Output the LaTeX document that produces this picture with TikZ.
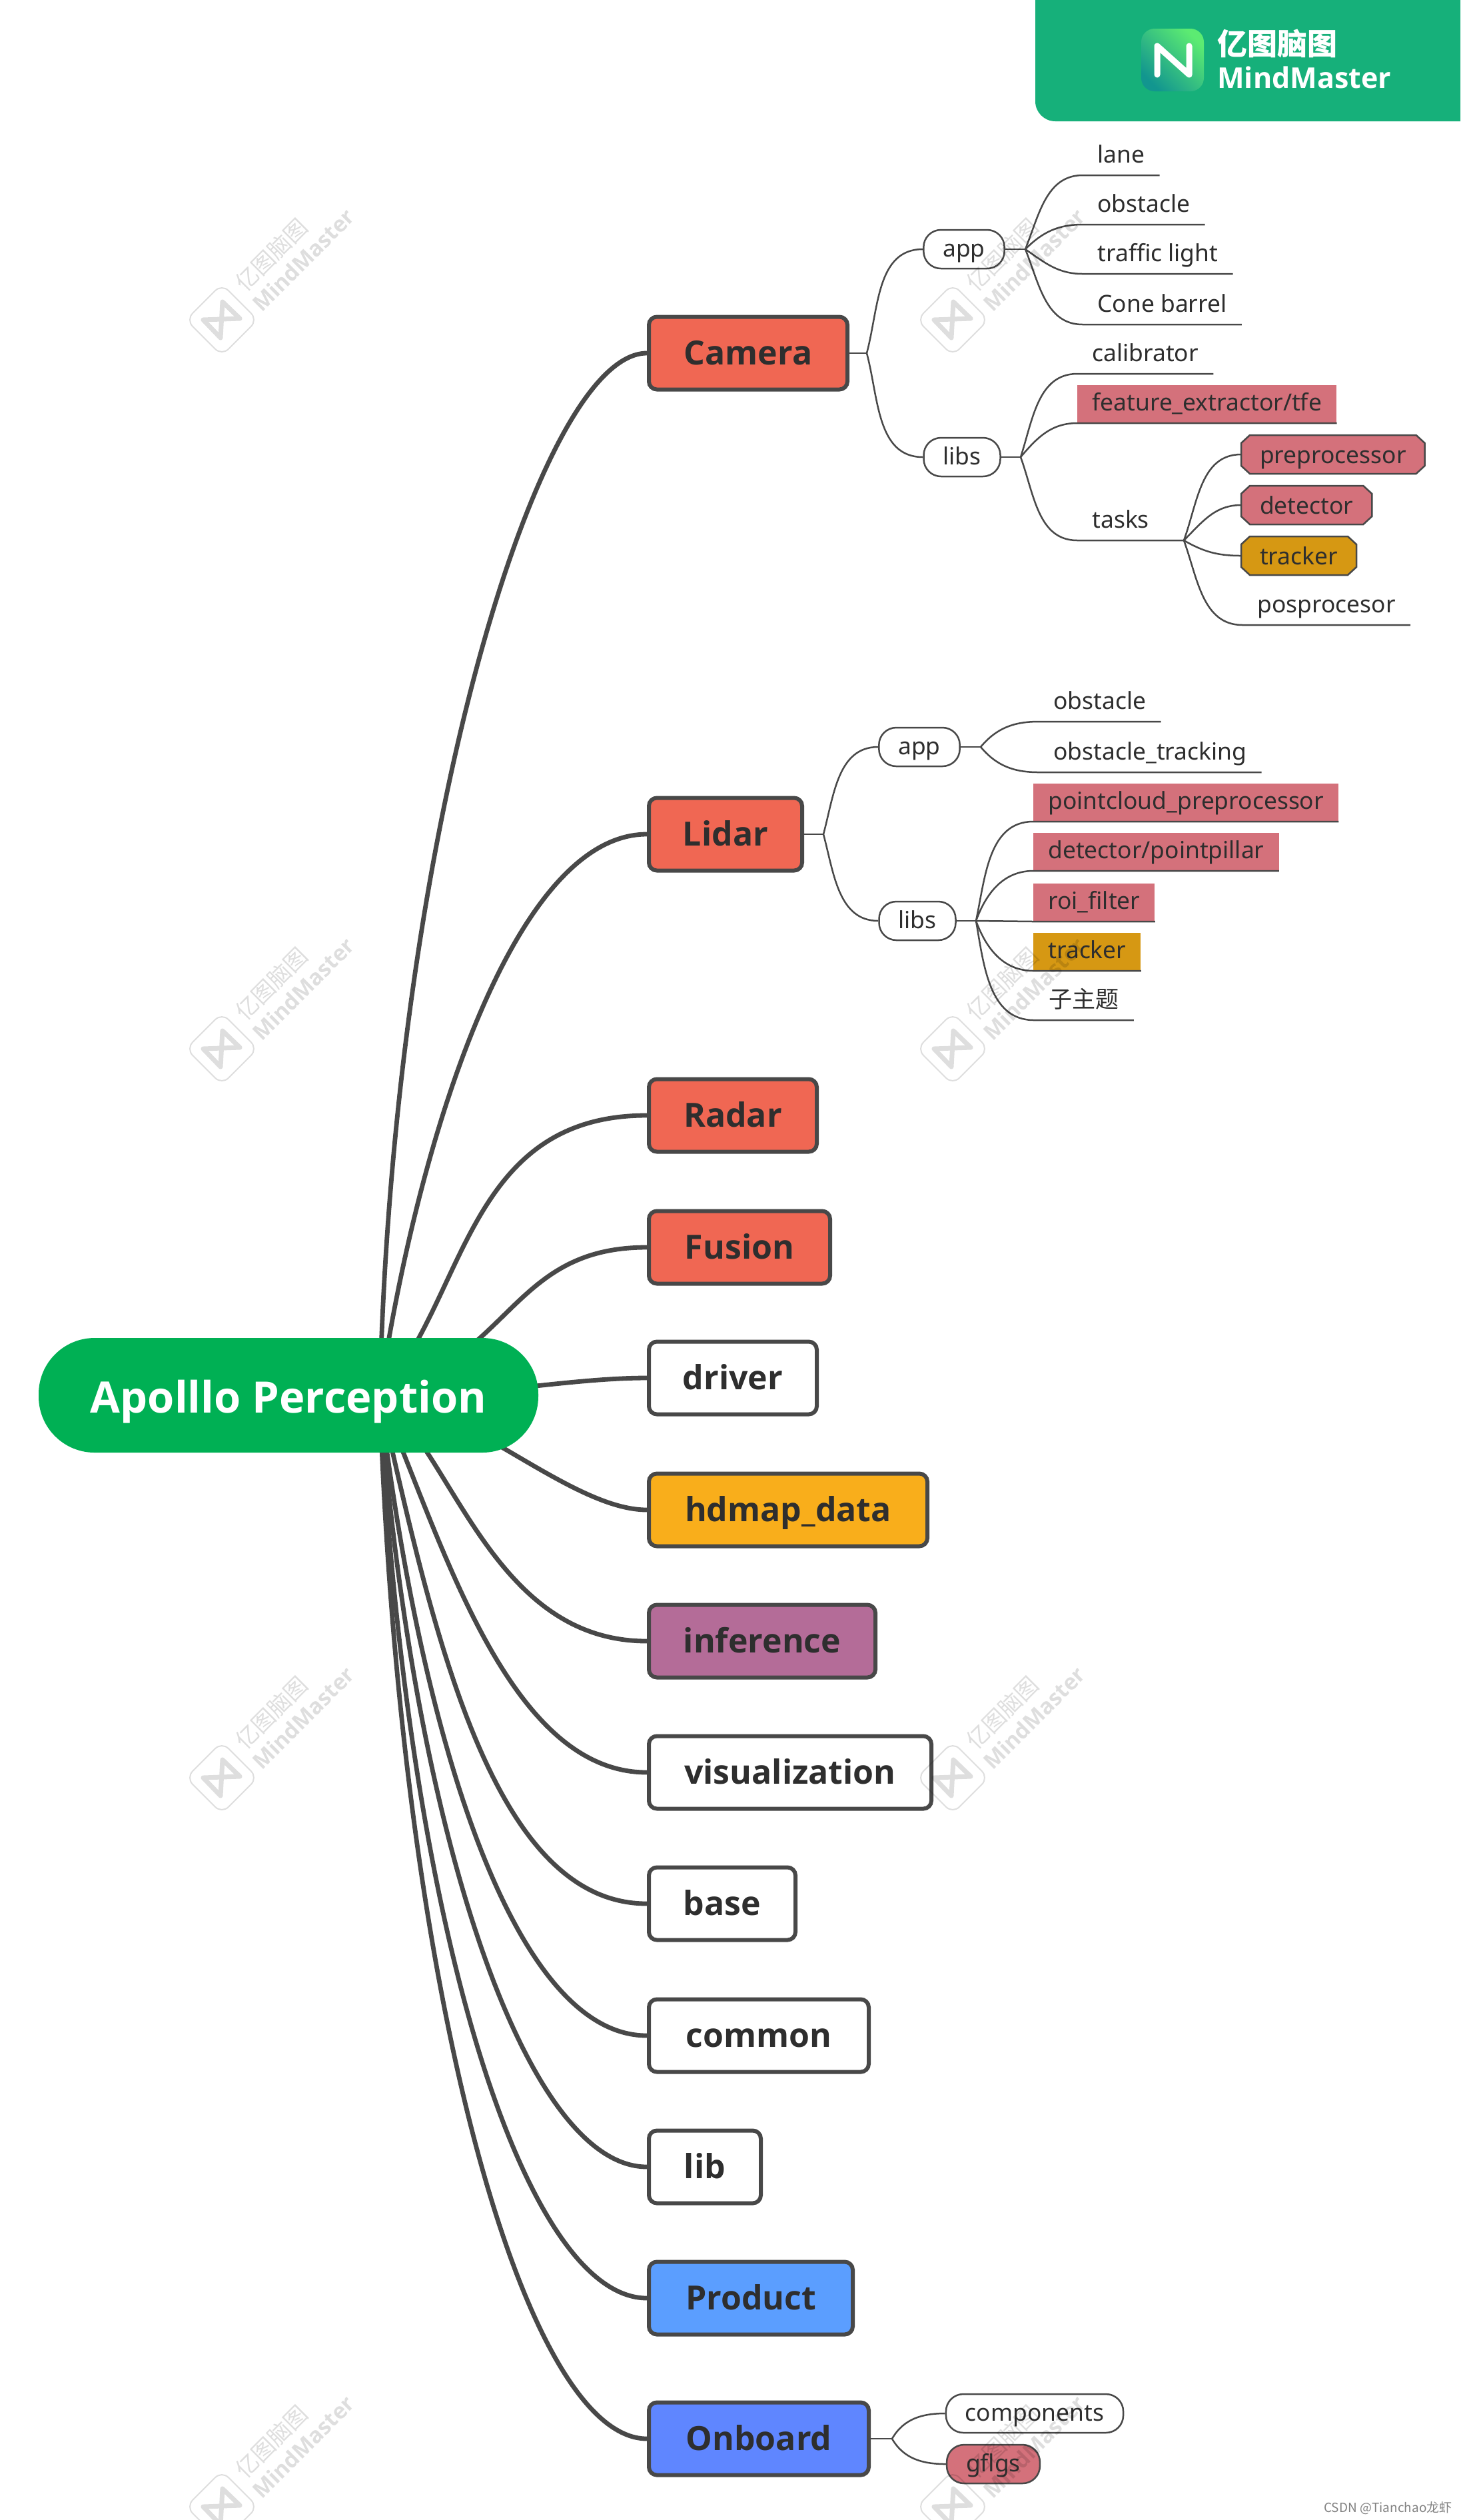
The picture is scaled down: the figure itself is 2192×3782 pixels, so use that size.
\documentclass[tikz,border=0pt]{standalone}
\usepackage{fontspec}
\setmainfont{Noto Sans}
\newfontfamily\cjk{Noto Sans CJK SC}
\newfontfamily\heavy{Open Sans}
\usetikzlibrary{backgrounds}
\definecolor{inkgrey}{HTML}{484848}
\definecolor{txtgrey}{HTML}{2E2E2E}
\definecolor{rootgreen}{HTML}{00B054}
\definecolor{bannergreen}{HTML}{16B07A}
\definecolor{logolight}{HTML}{5CEB72}
\definecolor{logodark}{HTML}{12968F}
\definecolor{coral}{HTML}{F06753}
\definecolor{amber}{HTML}{F9AE1B}
\definecolor{plum}{HTML}{B46C98}
\definecolor{skyblue}{HTML}{5B9EFF}
\definecolor{royal}{HTML}{5F86FF}
\definecolor{rosy}{HTML}{D4717B}
\definecolor{ochre}{HTML}{D69813}
\tikzstyle{mainline}=[line width=3.4pt,color=inkgrey]
\tikzstyle{subline}=[line width=1.25pt,color=inkgrey]
\tikzstyle{rootnode}=[rounded corners=42pt,fill=rootgreen,text=white,minimum width=375pt,minimum height=86pt,
  text height=30pt,text depth=4pt,font=\heavy\fontsize{32.5}{40}\selectfont\bfseries]
\tikzstyle{branch}=[anchor=west,draw=inkgrey,line width=3pt,rounded corners=6pt,minimum height=54.5pt,text=txtgrey,
  text height=22pt,text depth=5pt,font=\heavy\fontsize{25}{30}\selectfont\bfseries]
\tikzstyle{leaf}=[anchor=south west,inner xsep=11pt,inner ysep=0pt,text height=19.5pt,text depth=9pt,text=txtgrey,
  font=\fontsize{17.7}{21}\selectfont]
\tikzstyle{pill}=[draw=inkgrey,line width=1.25pt,rounded corners=13pt,inner xsep=14.5pt,inner ysep=0pt,text height=20pt,text depth=9pt,
  text=txtgrey,font=\fontsize{17.7}{21}\selectfont]
\tikzstyle{chamf}=[anchor=west,inner xsep=14pt,inner ysep=0pt,outer sep=0pt,text height=21pt,text depth=8pt,text=txtgrey,
  font=\fontsize{17.7}{21}\selectfont]
\tikzstyle{wmark}=[black,opacity=.13]

\begin{document}
\begin{tikzpicture}[x=0.5pt,y=-0.5pt]
    \useasboundingbox (0,0) rectangle (2192,3782);
    % banner
    \fill[bannergreen] (1554,0) [rounded corners=15pt] -- (1554,182) [sharp corners] -- (2192,182) -- (2192,0) -- cycle;
    \node[rounded corners=10pt,left color=logolight,right color=logodark,shading angle=-45,minimum size=47pt,inner sep=0pt] (logo) at (1760,90) {};
    \draw[white,line width=4.5pt,line cap=round,line join=round] (1737,112) -- (1737,69) -- (1785,112) -- (1785,69);
    \node[text=white,anchor=west,inner sep=0pt,font=\cjk\fontsize{22.5}{26}\selectfont\bfseries] (bannercn) at (1827,65) {亿图脑图};
    \node[text=white,anchor=west,inner sep=0pt,font=\heavy\fontsize{21.5}{27}\selectfont\bfseries] (banneren) at (1827,116) {MindMaster};

    % root and the first level
    \node[rootnode] (root) at (433,2094) {Apolllo Perception};
    \coordinate (rootc) at (570,2094);
    \node[branch,fill=coral,minimum width=149pt] (camera) at (971,530) {Camera};
    \node[branch,fill=coral,minimum width=115pt] (lidar) at (971,1252) {Lidar};
    \node[branch,fill=coral,minimum width=126pt] (radar) at (971,1674) {Radar};
    \node[branch,fill=coral,minimum width=136pt] (fusion) at (971,1872) {Fusion};
    \node[branch,fill=white,minimum width=126pt] (driver) at (971,2068) {driver};
    \node[branch,fill=amber,minimum width=209pt] (hdmap) at (971,2266) {hdmap\_data};
    \node[branch,fill=plum,minimum width=170pt] (inference) at (971,2463) {inference};
    \node[branch,fill=white,minimum width=212pt] (visual) at (971,2660) {visualization};
    \node[branch,fill=white,minimum width=110pt] (base) at (971,2857) {base};
    \node[branch,fill=white,minimum width=165pt] (common) at (971,3055) {common};
    \node[branch,fill=white,minimum width=84pt] (lib) at (971,3252) {lib};
    \node[branch,fill=skyblue,minimum width=153pt] (product) at (971,3449) {Product};
    \node[branch,fill=royal,minimum width=165pt] (onboard) at (971,3660) {Onboard};

    \begin{scope}[on background layer]
    \foreach \to/\ax/\ay/\dx in {camera/590/1250/162,lidar/625/1720/202,radar/700/1950/272,fusion/770/2035/202,
      driver/700/2100/122,hdmap/700/2110/112,inference/680/2180/232,visual/660/2300/212,base/650/2450/232,
      common/630/2600/202,lib/620/2750/182,product/610/2900/182,onboard/600/3000/182}
    \draw[mainline] (rootc) .. controls (\ax,\ay) and +(-\dx,0) .. (\to.west);
    \end{scope}

    % camera
    \coordinate (fcam) at (1301,530);
    \node[pill] (capp) at (1447,374) {app};
    \node[pill] (clibs) at (1444,686) {libs};
    \coordinate (fcapp) at (1539,374);
    \coordinate (fclibs) at (1532,686);
    \node[leaf] (clane) at (1625,263) {lane};
    \node[leaf] (cobst) at (1625,337) {obstacle};
    \node[leaf] (clight) at (1625,411) {traffic light};
    \node[leaf] (ccone) at (1625,487) {Cone barrel};
    \node[leaf] (ccalib) at (1617,561) {calibrator};
    \node[leaf,fill=rosy] (cfeat) at (1617,635) {feature\_extractor/tfe};
    \node[leaf] (ctasks) at (1617,811) {tasks};
    \coordinate (ftasks) at (1777,811);
    \node[chamf] (cpre) at (1863,682) {preprocessor};
    \node[chamf] (cdet) at (1863,758) {detector};
    \node[chamf] (ctrack) at (1863,834) {tracker};
    \node[leaf] (cpos) at (1865,938) {posprocesor};

    \begin{scope}[on background layer]
    \foreach \n/\col in {cpre/rosy,cdet/rosy,ctrack/ochre}
    \draw[subline,fill=\col] ([xshift=6.5pt]\n.north west) -- ([xshift=-6.5pt]\n.north east) -- ([yshift=-6pt]\n.north east)
      -- ([yshift=6pt]\n.south east) -- ([xshift=-6.5pt]\n.south east) -- ([xshift=6.5pt]\n.south west)
      -- ([yshift=6pt]\n.south west) -- ([yshift=-6pt]\n.north west) -- cycle;
    \end{scope}

    % lidar
    \coordinate (flid) at (1236,1252);
    \node[pill] (lapp) at (1380,1121) {app};
    \node[pill] (llibs) at (1377,1382) {libs};
    \coordinate (flapp) at (1472,1121);
    \coordinate (fllibs) at (1465,1382);
    \node[leaf] (lobst) at (1559,1083) {obstacle};
    \node[leaf] (ltrack) at (1559,1159) {obstacle\_tracking};
    \node[leaf,fill=rosy] (lcloud) at (1551,1233) {pointcloud\_preprocessor};
    \node[leaf,fill=rosy] (lpill) at (1551,1307) {detector/pointpillar};
    \node[leaf,fill=rosy] (lroi) at (1551,1383) {roi\_filter};
    \node[leaf,fill=ochre] (ltracker) at (1551,1457) {tracker};
    \node[leaf,font=\cjk\fontsize{17.5}{21}\selectfont] (lsub) at (1552,1531) {子主题};

    % onboard
    \coordinate (fonb) at (1339,3660);
    \node[pill] (ocomp) at (1553,3622) {components};
    \node[pill,fill=rosy] (ogflgs) at (1491,3698) {gflgs};

    \draw[subline] (camera.east) -- (fcam);
    \draw[subline] (capp.east) -- (fcapp);
    \draw[subline] (clibs.east) -- (fclibs);
    \draw[subline] (lidar.east) -- (flid);
    \draw[subline] (lapp.east) -- (flapp);
    \draw[subline] (llibs.east) -- (fllibs);
    \draw[subline] (onboard.east) -- (fonb);

    \foreach \from/\to/\ang in {fcam/capp/75,fcam/clibs/-75,flid/lapp/75,flid/llibs/-75,ftasks/cpre/70,ftasks/cdet/45,
      ftasks/ctrack/-30,fonb/ocomp/60,fonb/ogflgs/-60}
    \draw[subline] (\from) to[out=\ang,in=180] (\to.west);

    \foreach \from/\to/\ang in {fcapp/clane/68,fcapp/cobst/45,fcapp/clight/-35,fcapp/ccone/-68,fclibs/ccalib/72,fclibs/cfeat/50,
      flapp/lobst/50,flapp/ltrack/-50,fllibs/lcloud/78,fllibs/lpill/70,fllibs/ltracker/-70,fllibs/lsub/-80,ftasks/cpos/-70}
    \draw[subline] (\from) to[out=\ang,in=180] (\to.south west) -- (\to.south east);
    \draw[subline] (fclibs) to[out=-70,in=180] (ctasks.south west) -- (ftasks);
    \draw[subline] (fllibs) -- (lroi.south west) -- (lroi.south east);

    \node[text=gray,anchor=east,inner sep=0pt,font=\cjk\fontsize{9.5}{11}\selectfont] (csdn) at (2180,3764) {CSDN @Tianchao龙虾};

    % watermarks
    \begin{scope}
    \clip (0,0) rectangle (2192,3782);
    \foreach \wx/\wy/\wn in {333/480/a,1430/480/b,333/1574/c,1430/1574/d,333/2668/e,1430/2668/f,333/3762/g,1430/3762/h}
    {
    \begin{scope}[shift={(\wx,\wy)}]
    \draw[wmark,line width=1pt,rounded corners=7pt,rotate=45] (-38,-38) rectangle (38,38);
    \draw[wmark,line width=3.5pt,line join=round] (-28,0) -- (-2,27) -- (1,-27) -- (27,-2) -- cycle;
    \node[wmark,rotate=45,inner sep=0pt,font=\cjk\fontsize{17}{20}\selectfont] (wcn\wn) at (74,-98) {亿图脑图};
    \node[wmark,rotate=45,inner sep=0pt,font=\heavy\fontsize{16.5}{20}\selectfont\bfseries] (wen\wn) at (122,-90) {MindMaster};
    \end{scope}
    }
    \end{scope}
\end{tikzpicture}
\end{document}
